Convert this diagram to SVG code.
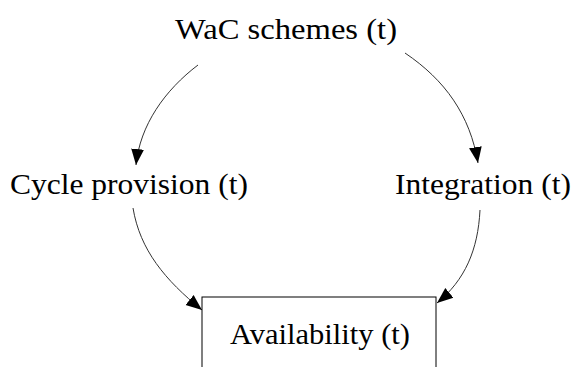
<svg xmlns="http://www.w3.org/2000/svg" width="574" height="367" viewBox="0 0 574 367">
  <style>
    .lbl { font-family: "Liberation Serif", "Times New Roman", serif; font-size: 30px; fill: #000; }
    .edge { fill: none; stroke: #333; stroke-width: 1; }
  </style>
  <defs>
    <marker id="arrow" viewBox="0 0 10 10" refX="10" refY="5" markerWidth="16" markerHeight="16" markerUnits="userSpaceOnUse" orient="auto">
      <path d="M0,1 L10,5 L0,9 Z" fill="#000"/>
    </marker>
  </defs>
  <rect width="574" height="367" fill="#fff"/>

  <g id="edges">
    <path class="edge" d="M198,65 C165,90 140,125 136,165" marker-end="url(#arrow)"/>
    <path class="edge" d="M405,53 C445,80 470,115 478,163" marker-end="url(#arrow)"/>
    <path class="edge" d="M133,208 C140,250 165,280 202,310" marker-end="url(#arrow)"/>
    <path class="edge" d="M480,210 C478,250 465,280 437,303" marker-end="url(#arrow)"/>
  </g>

  <g id="wac">
    <text class="lbl" x="175" y="39" textLength="222" lengthAdjust="spacingAndGlyphs">WaC schemes (t)</text>
  </g>
  <g id="cycle">
    <text class="lbl" x="10" y="194" textLength="238" lengthAdjust="spacingAndGlyphs">Cycle provision (t)</text>
  </g>
  <g id="integration">
    <text class="lbl" x="395" y="194" textLength="176" lengthAdjust="spacingAndGlyphs">Integration (t)</text>
  </g>
  <g id="availability">
    <rect x="202" y="297" width="234" height="80" fill="#fff" stroke="#000" stroke-width="1"/>
    <text class="lbl" x="230" y="344" textLength="180" lengthAdjust="spacingAndGlyphs">Availability (t)</text>
  </g>
</svg>
